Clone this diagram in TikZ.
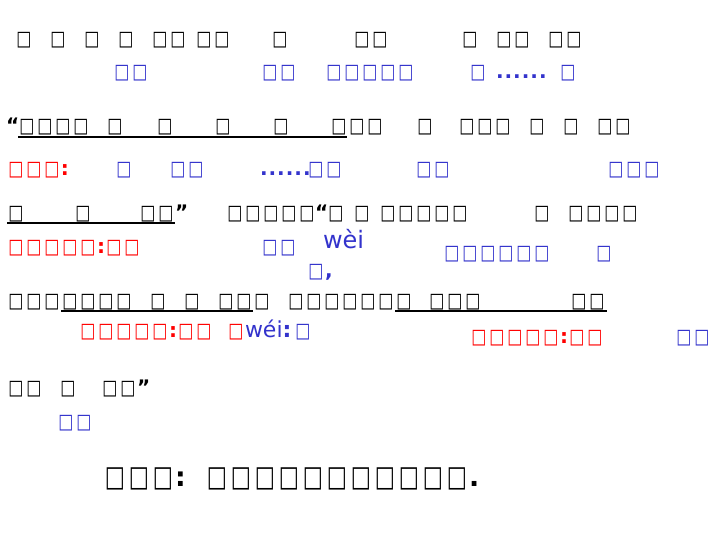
\documentclass[tikz,border=0pt]{standalone}
\usepackage{fontspec}
\setmainfont{DejaVu Sans}
\usepackage{graphicx}
\definecolor{pblue}{RGB}{51,51,204}
\definecolor{pred}{RGB}{255,0,0}
\newcommand\T{\makebox[18pt][c]{\fontsize{16}{20}\selectfont\bfseries\scalebox{1}[1.28]{□}}}
\newcommand\TB{\makebox[24pt][c]{\fontsize{21.3}{26}\selectfont\bfseries\scalebox{1}[1.37]{□}}}
\newcommand\D{\makebox[8.6pt][l]{\bfseries .}}
\newcommand\DD{\D\D\D\D\D\D}
\newcommand\cln{{\bfseries :}}
\begin{document}
\begin{tikzpicture}[x=1pt,y=-1pt,
  tx/.style={anchor=base west,inner sep=0pt,outer sep=0pt,font=\fontsize{20}{24}\selectfont},
  bk/.style={tx,text=black},
  bl/.style={tx,text=pblue},
  rd/.style={tx,text=pred},
  uline/.style={line width=2pt,black}]
\fill[white] (0,0) rectangle (720,540);
\useasboundingbox (0,0) rectangle (720,540);
% Row 1
\node[bk] (a1) at (15,46) {\T};
\node[bk] (a2) at (49,46) {\T};
\node[bk] (a3) at (83,46) {\T};
\node[bk] (a4) at (117,46) {\T};
\node[bk] (a5) at (151,46) {\T\T};
\node[bk] (a6) at (195,46) {\T\T};
\node[bk] (a7) at (271,46) {\T};
\node[bk] (a8) at (353,46) {\T\T};
\node[bk] (a9) at (461,46) {\T};
\node[bk] (a10) at (495,46) {\T\T};
\node[bk] (a11) at (547,46) {\T\T};
% Row 2
\node[bl] (b1) at (113,79) {\T\T};
\node[bl] (b2) at (261,79) {\T\T};
\node[bl] (b3) at (325,79) {\T\T\T\T\T};
\node[bl] (b4) at (469,79) {\T};
\node[bl] (b5) at (496,79) {\DD};
\node[bl] (b6) at (559,79) {\T};
% Row 3
\node[bk] (c0) at (6,133) {\bfseries “};
\node[bk] (c1) at (18,133) {\T\T\T\T};
\node[bk] (c2) at (106,133) {\T};
\node[bk] (c3) at (156,133) {\T};
\node[bk] (c4) at (214,133) {\T};
\node[bk] (c5) at (272,133) {\T};
\node[bk] (c6) at (330,133) {\T\T\T};
\node[bk] (c7) at (416,133) {\T};
\node[bk] (c8) at (458,133) {\T\T\T};
\node[bk] (c9) at (528,133) {\T};
\node[bk] (c10) at (562,133) {\T};
\node[bk] (c11) at (596,133) {\T\T};
\coordinate (u1a) at (18,137);
\coordinate (u1b) at (347,137);
\draw[uline] (u1a) -- (u1b);
% Row 4
\node[rd] (d1) at (7,176) {\T\T\T\cln};
\node[bl] (d2) at (115,176) {\T};
\node[bl] (d3) at (169,176) {\T\T};
\node[bl] (d4) at (260,176) {\DD};
\node[bl] (d5) at (307,176) {\T\T};
\node[bl] (d6) at (415,176) {\T\T};
\node[bl] (d7) at (607,176) {\T\T\T};
% Row 5
\node[bk] (e1) at (7,220) {\T};
\node[bk] (e2) at (74,220) {\T};
\node[bk] (e3) at (139,220) {\T\T\bfseries ”};
\node[bk] (e4) at (226,220) {\T\T\T\T\T};
\node[bk] (e5) at (315,220) {\bfseries “};
\node[bk] (e6) at (327,220) {\T};
\node[bk] (e7) at (353,220) {\T};
\node[bk] (e8) at (379,220) {\T\T\T\T\T};
\node[bk] (e9) at (533,220) {\T};
\node[bk] (e10) at (567,220) {\T\T\T\T};
\coordinate (u2a) at (7,223);
\coordinate (u2b) at (175,223);
\draw[uline] (u2a) -- (u2b);
% Row 6
\node[rd] (f1) at (7,253) {\T\T\T\T\T\cln\T\T};
\node[bl] (f2) at (261,253) {\T\T};
\node[bl,font=\fontsize{24}{28}\selectfont] (f3) at (323,248) {wèi};
\node[bl] (f4) at (307,277) {\T{\bfseries ,}};
\node[bl] (f5) at (443,259) {\T\T\T\T\T\T};
\node[bl] (f6) at (595,259) {\T};
% Row 7
\node[bk] (g1) at (7,307) {\T\T\T\T\T\T\T};
\node[bk] (g2) at (149,307) {\T};
\node[bk] (g3) at (183,307) {\T};
\node[bk] (g4) at (217,307) {\T\T\T};
\node[bk] (g5) at (287,307) {\T\T\T\T\T\T\T};
\node[bk] (g6) at (428,307) {\T\T\T};
\node[bk] (g7) at (570,307) {\T\T};
\coordinate (u3a) at (61,311);
\coordinate (u3b) at (253,311);
\coordinate (u4a) at (395,311);
\coordinate (u4b) at (607,311);
\draw[uline] (u3a) -- (u3b);
\draw[uline] (u4a) -- (u4b);
% Row 8
\node[rd] (h1) at (79,337) {\T\T\T\T\T\cln\T\T};
\node[rd] (h2) at (227,337) {\T};
\node[bl,font=\fontsize{22}{26}\selectfont] (h3) at (245,337) {wéi\cln};
\node[bl] (h4) at (294,337) {\T};
\node[rd] (h5) at (470,343) {\T\T\T\T\T\cln\T\T};
\node[bl] (h6) at (675,343) {\T\T};
% Row 9
\node[bk] (i1) at (7,394) {\T\T};
\node[bk] (i2) at (59,394) {\T};
\node[bk] (i3) at (101,394) {\T\T\bfseries ”};
% Row 10
\node[bl] (j1) at (57,428) {\T\T};
% Row 11
\node[bk,font=\fontsize{26.7}{32}\selectfont] (k1) at (103,486) {\TB\TB\TB\cln};
\node[bk,font=\fontsize{26.7}{32}\selectfont] (k2) at (205,486) {\TB\TB\TB\TB\TB\TB\TB\TB\TB\TB\TB\bfseries .};
\end{tikzpicture}
\end{document}
